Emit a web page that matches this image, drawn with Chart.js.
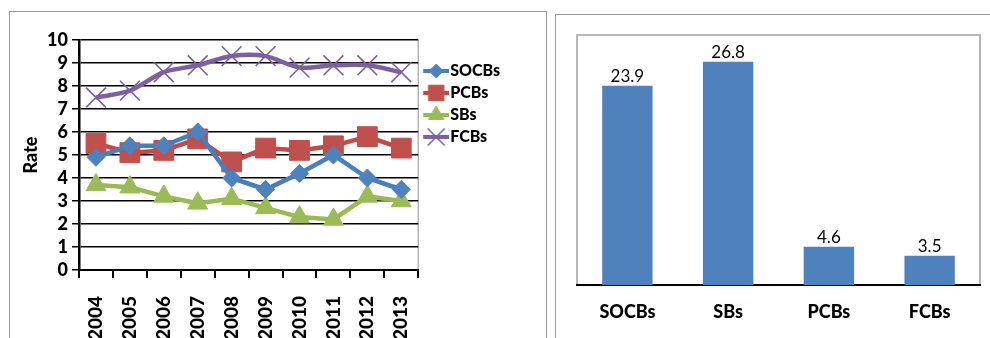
<!DOCTYPE html>
<html>
<head>
<meta charset="utf-8">
<script src="https://cdn.jsdelivr.net/npm/chart.js@4/dist/chart.umd.min.js"></script>
<style>
  html, body { margin: 0; padding: 0; background: #fff; }
  body { width: 990px; height: 338px; position: relative; overflow: hidden; }
  .panel { position: absolute; border: 1px solid #9a9a9a; border-bottom: none; box-sizing: border-box; }
  #leftPanel { left: 9px; top: 11px; width: 538px; height: 340px; }
  #rightPanel { left: 555px; top: 14px; width: 440px; height: 340px; border-right: none; }
  .box { position: absolute; }
  #leftBox { left: 0; top: 0; width: 547px; height: 338px; }
  #rightBox { left: 555px; top: 15px; width: 435px; height: 323px; }
</style>
</head>
<body>
<div class="panel" id="leftPanel"></div>
<div class="panel" id="rightPanel"></div>
<div class="box" id="leftBox"><canvas id="rateChart"></canvas></div>
<div class="box" id="rightBox"><canvas id="shareChart"></canvas></div>
<script>
// yearly rates per bank group
const years = ['2004', '2005', '2006', '2007', '2008', '2009', '2010', '2011', '2012', '2013'];
const socbs = [4.9, 5.4, 5.4, 6.0, 4.0, 3.5, 4.2, 5.0, 4.0, 3.5];
const pcbs  = [5.5, 5.1, 5.2, 5.7, 4.7, 5.3, 5.2, 5.4, 5.8, 5.3];
const sbs   = [3.7, 3.6, 3.2, 2.9, 3.1, 2.7, 2.3, 2.2, 3.2, 3.0];
const fcbs  = [7.5, 7.8, 8.6, 8.9, 9.3, 9.3, 8.8, 8.9, 8.9, 8.6];
const rateTicks = [0, 1, 2, 3, 4, 5, 6, 7, 8, 9, 10];

// averages shown in the bar chart
const groups = ['SOCBs', 'SBs', 'PCBs', 'FCBs'];
const groupValues = [23.9, 26.8, 4.6, 3.5];

Chart.defaults.font.family = 'Lato, "Open Sans", sans-serif';
Chart.defaults.color = '#000';

const series = [
  { label: 'SOCBs', data: socbs, line: '#4A7EBB', fill: '#4F81BD', style: 'rectRot', r: 9, lr: 7 },
  { label: 'PCBs',  data: pcbs,  line: '#BE4B48', fill: '#C0504D', style: 'rect', r: 14, lr: 11 },
  { label: 'SBs',   data: sbs,   line: '#98B954', fill: '#9BBB59', style: 'triangle', r: 11.5, lr: 9 },
  { label: 'FCBs',  data: fcbs,  line: '#7D60A0', fill: 'rgba(0,0,0,0)', style: 'crossRot', r: 14, lr: 12 }
];

// legend swatch: short line with the marker on top (left margin nudges it right)
const SHIFT = 3;
function swatch(s) {
  const c = document.createElement('canvas');
  c.width = 26 + 2 * SHIFT; c.height = 22;
  const ctx = c.getContext('2d');
  const x0 = 2 * SHIFT;
  ctx.strokeStyle = s.line;
  ctx.lineWidth = 4;
  ctx.beginPath(); ctx.moveTo(x0, 11); ctx.lineTo(x0 + 26, 11); ctx.stroke();
  ctx.fillStyle = s.fill;
  ctx.strokeStyle = s.style === 'crossRot' ? s.line : s.fill;
  ctx.lineWidth = s.style === 'crossRot' ? 1.6 : 1;
  Chart.helpers.drawPoint(ctx, { pointStyle: s.style, radius: s.lr, rotation: 0, borderWidth: ctx.lineWidth }, x0 + 13, 11);
  return c;
}

const swatches = series.map(swatch);

const rightEdge = {
  id: 'rightEdge',
  beforeDraw(chart) {
    const { ctx, chartArea: a } = chart;
    ctx.save();
    ctx.strokeStyle = '#b4b4b4';
    ctx.lineWidth = 1.5;
    ctx.beginPath(); ctx.moveTo(a.right, a.top); ctx.lineTo(a.right, a.bottom); ctx.stroke();
    ctx.restore();
  }
};

const boldFont = size => ({ size, weight: '900' });

new Chart(document.getElementById('rateChart'), {
  type: 'line',
  data: {
    labels: years,
    datasets: series.map(s => ({
      label: s.label,
      data: s.data,
      borderColor: s.line,
      borderWidth: 4.5,
      backgroundColor: s.fill,
      pointStyle: s.style,
      pointRadius: s.r,
      pointBackgroundColor: s.fill,
      pointBorderColor: s.style === 'crossRot' ? s.line : s.fill,
      pointBorderWidth: s.style === 'crossRot' ? 1.6 : 1,
      tension: s.label === 'FCBs' ? 0.3 : 0
    }))
  },
  options: {
    responsive: true,
    maintainAspectRatio: false,
    animation: false,
    layout: { padding: { top: 40, right: 37, bottom: 0, left: 0 } },
    plugins: {
      tooltip: { enabled: false },
      legend: {
        position: 'right',
        align: 'start',
        title: { display: true, text: ' ', font: { size: 10 }, padding: { top: 0, bottom: 5 } },
        labels: {
          usePointStyle: true,
          pointStyleWidth: 18,
          padding: 6,
          font: boldFont(16),
          color: '#000',
          generateLabels: chart => chart.data.datasets.map((ds, i) => ({
            text: ds.label,
            pointStyle: swatches[i],
            datasetIndex: i,
            hidden: false,
            lineWidth: 0,
            fontColor: '#000'
          }))
        }
      }
    },
    scales: {
      x: {
        offset: true,
        grid: { offset: true, drawOnChartArea: false, drawTicks: true, tickLength: 8, color: '#000', lineWidth: 2 },
        border: { color: '#000', width: 2 },
        ticks: { minRotation: 90, maxRotation: 90, padding: 18, font: boldFont(19) },
        afterFit(scale) { scale.height = 68; }
      },
      y: {
        min: 0,
        max: 10,
        afterBuildTicks(scale) { scale.ticks = rateTicks.map(v => ({ value: v })); },
        grid: { color: '#000', lineWidth: 1.5, tickLength: 7 },
        border: { color: '#000', width: 2.5 },
        ticks: { autoSkip: false, padding: 4, font: boldFont(18) },
        title: { display: true, text: 'Rate', font: boldFont(18), padding: { top: 20, bottom: 0 } },
        afterFit(scale) { scale.width = 79; }
      }
    }
  },
  plugins: [rightEdge]
});

// frame around the plot area and value labels on top of the bars
const plotFrame = {
  id: 'plotFrame',
  beforeDraw(chart) {
    const { ctx, chartArea: a } = chart;
    ctx.save();
    ctx.strokeStyle = '#b8b8b8';
    ctx.lineWidth = 2;
    ctx.strokeRect(a.left, a.top, a.right - a.left, a.bottom - a.top);
    ctx.restore();
  }
};

const barValues = {
  id: 'barValues',
  afterDatasetsDraw(chart) {
    const { ctx } = chart;
    const meta = chart.getDatasetMeta(0);
    ctx.save();
    ctx.font = '17px Lato, "Open Sans", sans-serif';
    ctx.fillStyle = '#000';
    ctx.textAlign = 'center';
    ctx.textBaseline = 'bottom';
    meta.data.forEach((bar, i) => {
      ctx.fillText(chart.data.datasets[0].data[i].toFixed(1), bar.x, bar.y - 1);
    });
    ctx.restore();
  }
};

new Chart(document.getElementById('shareChart'), {
  type: 'bar',
  data: {
    labels: groups,
    datasets: [{
      data: groupValues,
      backgroundColor: '#4F81BD',
      borderWidth: 0,
      barPercentage: 0.5,
      categoryPercentage: 1
    }]
  },
  options: {
    responsive: true,
    maintainAspectRatio: false,
    animation: false,
    layout: { padding: { top: 20, right: 10, bottom: 0, left: 22 } },
    plugins: { legend: { display: false }, tooltip: { enabled: false } },
    scales: {
      x: {
        grid: { display: false },
        border: { color: '#000', width: 2 },
        ticks: { padding: 8, font: boldFont(18) },
        afterFit(scale) { scale.height = 53; }
      },
      y: { display: false, min: 0, max: 30 }
    }
  },
  plugins: [plotFrame, barValues]
});
</script>
</body>
</html>
